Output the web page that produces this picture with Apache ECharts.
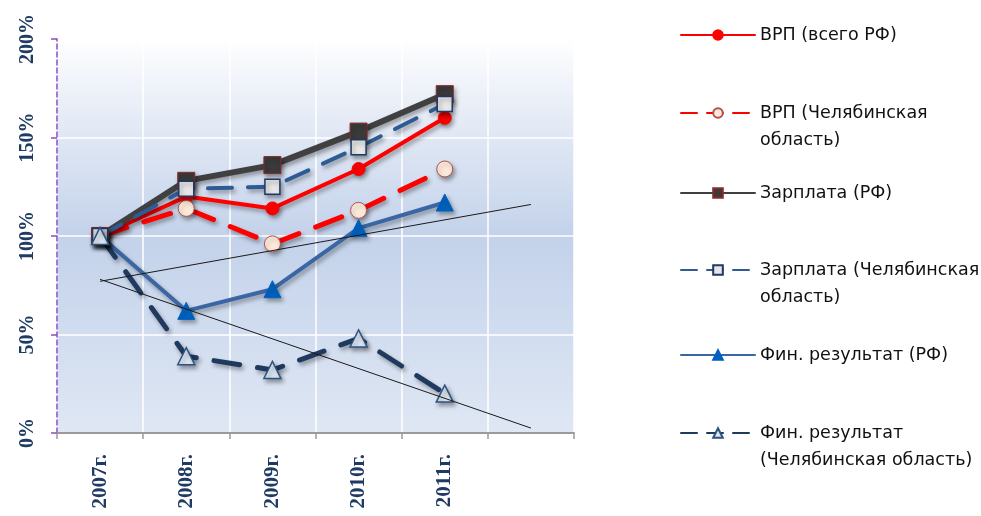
<!DOCTYPE html>
<html><head><meta charset="utf-8">
<script src="https://cdn.jsdelivr.net/npm/echarts@6/dist/echarts.min.js"></script>
<style>html,body{margin:0;padding:0;background:#fff}#c{width:981px;height:516px}</style>
</head><body><div id="c"></div>
<script>
const categories = ['2007г.', '2008г.', '2009г.', '2010г.', '2011г.', ''];
const yTicks = [0, 50, 100, 150, 200];
const vrpRF = [100, 120, 114, 134, 160];
const vrpChel = [100, 114, 96, 113, 134];
const wageRF = [100, 128, 136, 153, 172];
const wageChel = [100, 124, 125, 145, 167];
const finRF = [100, 62, 73, 104, 117];
const finChel = [100, 39, 32, 48, 20];
const trendFinRF = [77, null, null, null, null, 116];
const trendFinChel = [78, null, null, null, null, 2.5];
const names = ['ВРП (всего РФ)', 'ВРП (Челябинская\nобласть)', 'Зарплата (РФ)', 'Зарплата (Челябинская\nобласть)', 'Фин. результат (РФ)', 'Фин. результат\n(Челябинская область)'];

const shadow = {shadowBlur: 4, shadowOffsetX: 2, shadowOffsetY: 3, shadowColor: 'rgba(0,0,0,0.35)'};
function line(name, data, color, width, type, symbol, size, fill, border, bw) {
  return {
    name, type: 'line', data, symbol, symbolSize: size,
    lineStyle: Object.assign({color, width, type, cap: 'round'}, shadow),
    itemStyle: Object.assign({color: fill, borderColor: border, borderWidth: bw}, shadow),
    emphasis: {disabled: true}, animation: false
  };
}
const series = [
  line(names[0], vrpRF, '#ff0000', 4, 'solid', 'circle', 13, '#ff0000', '#ff0000', 1),
  line(names[1], vrpChel, '#ff0000', 5, [28, 18], 'circle', 16, '#fde9d9', '#b05050', 1),
  line(names[2], wageRF, '#404040', 6, 'solid', 'rect', 17, '#3a3a3a', '#8a2a2a', 1),
  line(names[3], wageChel, '#2e5b94', 4, [24, 16], 'rect', 15, '#e6e6e6', '#1f3864', 1.5),
  line(names[4], finRF, '#3a66a4', 4, 'solid', 'triangle', 17, '#0062c0', '#0062c0', 1),
  line(names[5], finChel, '#1f3a5e', 5, [26, 18], 'triangle', 17, '#dce6f2', '#2f5380', 1.5),
  {type: 'line', data: trendFinRF, connectNulls: true, symbol: 'none', lineStyle: {color: '#1a1a1a', width: 1}, z: 5, silent: true, animation: false},
  {type: 'line', data: trendFinChel, connectNulls: true, symbol: 'none', lineStyle: {color: '#1a1a1a', width: 1}, z: 5, silent: true, animation: false}
];
const legendCenters = [35, 113, 193, 270, 355, 433];
const legendDash = [null, [16, 10], null, [16, 10], null, [16, 10]];
const LH = 27;
const legends = names.map((n, i) => {
  const multi = n.indexOf('\n') >= 0;
  return {
    data: [n], left: 680, top: legendCenters[i] - (multi ? 1.5 : 0.5) * LH,
    padding: 0, itemWidth: 74, itemHeight: 12, selectedMode: false,
    formatter: multi ? (' \n' + '{name}') : '{name}',
    lineStyle: legendDash[i] ? {width: 2, type: legendDash[i], shadowBlur: 0, shadowOffsetX: 0, shadowOffsetY: 0} : {width: 2, shadowBlur: 0, shadowOffsetX: 0, shadowOffsetY: 0},
    itemStyle: {shadowBlur: 0, shadowOffsetX: 0, shadowOffsetY: 0},
    textStyle: {fontFamily: 'DejaVu Sans', fontSize: 17.5, color: '#111', lineHeight: LH}
  };
});
const chart = echarts.init(document.getElementById('c'), null, {renderer: 'canvas'});
chart.setOption({
  backgroundColor: '#fff',
  animation: false,
  legend: legends,
  grid: {left: 57, right: 407, top: 39, bottom: 83, show: true, borderWidth: 0,
    backgroundColor: {type: 'linear', x: 0, y: 0, x2: 0, y2: 1, colorStops: [
      {offset: 0, color: '#ffffff'}, {offset: 0.1, color: '#f1f4fa'}, {offset: 0.5, color: '#c3d2ea'}, {offset: 1, color: '#dfe7f4'}]}},
  xAxis: {type: 'category', data: categories, boundaryGap: true,
    axisLine: {lineStyle: {color: '#9a9a9a', width: 2}},
    axisTick: {show: true, length: 6, lineStyle: {color: '#9a9a9a', width: 1.5}},
    splitLine: {show: true, lineStyle: {color: '#ffffff', width: 1.5}},
    axisLabel: {rotate: 90, margin: 21, interval: 0, fontFamily: 'Liberation Serif', fontWeight: 'bold', fontSize: 21, color: '#1f3b63'}},
  yAxis: {type: 'value', min: yTicks[0], max: yTicks[yTicks.length - 1], interval: 50,
    axisLine: {show: true, lineStyle: {color: '#8a4cc0', width: 1.5, type: [5, 3]}},
    axisTick: {show: true, length: 6, lineStyle: {color: '#8a4cc0', width: 1.5}},
    splitLine: {show: true, lineStyle: {color: '#ffffff', width: 1.5}},
    axisLabel: {rotate: 90, margin: 19, formatter: '{value}%', fontFamily: 'Liberation Serif', fontWeight: 'bold', fontSize: 20, color: '#1f3b63'}},
  series
});
</script></body></html>
